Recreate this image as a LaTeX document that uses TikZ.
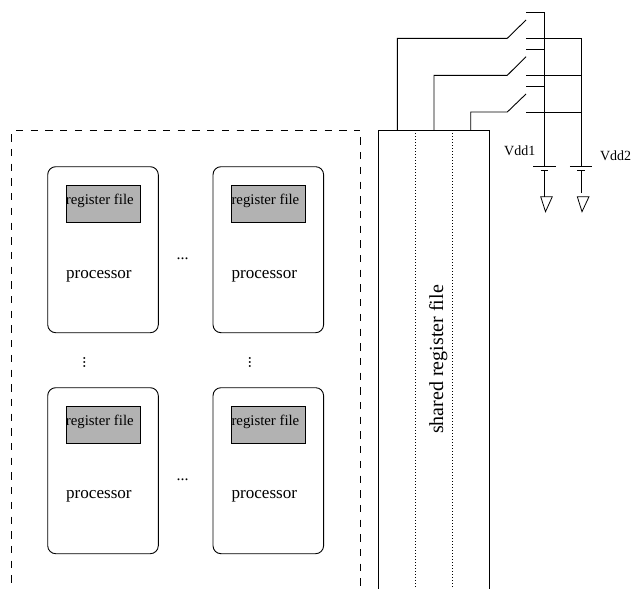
\documentclass[tikz,border=0pt]{standalone}
\usepackage{fontspec}
\setmainfont{Liberation Serif}
\begin{document}
\begin{tikzpicture}[x=1pt,y=-1pt,
  every node/.style={inner sep=0pt,outer sep=0pt},
  wire/.style={draw=black,line width=0.9pt},
  procbox/.style={draw=black,line width=0.9pt,rounded corners=8pt,rectangle,minimum width=110.6pt,minimum height=166pt,anchor=north west},
  regbox/.style={draw=black,fill=black!30,line width=0.9pt,rectangle,minimum width=74pt,minimum height=37.3pt,anchor=north west},
  regtext/.style={font=\fontsize{14.8}{16}\selectfont,anchor=base},
  proctext/.style={font=\fontsize{17.1}{19}\selectfont,anchor=base},
  vddtext/.style={font=\fontsize{14}{16}\selectfont,anchor=base west},
  dotstext/.style={font=\fontsize{16}{18}\selectfont,anchor=base},
  frame/.style={draw=black,line width=0.9pt,dash pattern=on 7.3pt off 7.4pt},
  divider/.style={draw=black,line width=0.9pt,dash pattern=on 1pt off 2pt},
  gnd/.style={draw=black,line width=0.8pt}]
\useasboundingbox (0,0) rectangle (632,589);
% dashed frame
\coordinate (fbl) at (11,589); \coordinate (ftl) at (11,130);
\coordinate (ftr) at (360.3,130); \coordinate (fbr) at (360.3,589);
\draw[frame,dash phase=10.4pt] (ftl) -- (fbl);
\draw[frame,dash phase=9.7pt] (ftl) -- (ftr);
\draw[frame,dash phase=7.3pt] (ftr) -- (fbr);
% processors
\foreach \n/\x/\y/\rx/\ry/\tx/\px/\rb/\pb in {
  a/47.7/166.7/66/185/99.8/98.9/204/278.3,
  b/213/166.7/231.3/185/265.4/264.3/204/278.3,
  c/47.7/387.7/66/406/99.8/98.9/425/498.3,
  d/213/387.7/231.3/406/265.4/264.3/425/498.3}{
  \node[procbox] (p\n) at (\x,\y) {};
  \node[regbox] (r\n) at (\rx,\ry) {};
  \node[regtext] (rt\n) at (\tx,\rb) {register file};
  \node[proctext] (pt\n) at (\px,\pb) {processor};
}
\node[dotstext] (h1) at (182.6,259) {...};
\node[dotstext] (h2) at (182.6,480) {...};
\node[dotstext,rotate=90] (v1) at (85,362.5) {...};
\node[dotstext,rotate=90] (v2) at (250.6,362.5) {...};
% shared register file
\coordinate (sbl) at (378.7,589); \coordinate (stl) at (378.7,130);
\coordinate (str) at (489.3,130); \coordinate (sbr) at (489.3,589);
\draw[wire] (sbl) -- (stl) -- (str) -- (sbr);
\coordinate (d1t) at (415.7,130); \coordinate (d1b) at (415.7,589);
\coordinate (d2t) at (452.3,130); \coordinate (d2b) at (452.3,589);
\draw[divider] (d1t) -- (d1b);
\draw[divider] (d2t) -- (d2b);
\node[font=\fontsize{20}{22}\selectfont,rotate=90,anchor=base] (srf) at (443,359.5) {shared register file};
% rails
\coordinate (r1t) at (544.4,12.3); \coordinate (r1b) at (544.4,166.7);
\coordinate (r2t) at (581,38.3); \coordinate (r2b) at (581,166.7);
\coordinate (top1) at (526,12.3);
\draw[wire] (top1) -- (r1t) -- (r1b);
\draw[wire] (r2t) -- (r2b);
% switches
\foreach \w/\yy/\ya/\yc in {397.3/38.3/20/1, 434/75.3/56.7/2, 470.7/112/94/3}{
  \coordinate (wb\yc) at (\w,130);
  \coordinate (wc\yc) at (\w,\yy);
  \coordinate (wk\yc) at (507.3,\yy);
  \coordinate (wt\yc) at (526,\ya);
  \coordinate (fa\yc) at (526,\yy);
  \coordinate (fb\yc) at (581,\yy);
  \draw[wire] (wb\yc) -- (wc\yc) -- (wk\yc) -- (wt\yc);
  \draw[wire] (fa\yc) -- (fb\yc);
}
\coordinate (ua) at (526,49.3); \coordinate (ub) at (544.4,49.3);
\coordinate (va) at (526,86); \coordinate (vb) at (544.4,86);
\draw[wire] (ua) -- (ub);
\draw[wire] (va) -- (vb);
% batteries and grounds
\foreach \k/\cx/\lo/\gl/\gr/\ga in {1/544.4/196.7/540.7/552.3/545.5, 2/581/192.7/577.3/589/582}{
  \coordinate (pl\k) at (\cx-11.2,166.7); \coordinate (pr\k) at (\cx+11.2,166.7);
  \coordinate (ql\k) at (\cx-3.7,170.7); \coordinate (qr\k) at (\cx+3.9,170.7);
  \coordinate (m\k) at (\cx,166.7); \coordinate (n\k) at (\cx,\lo);
  \draw[wire] (pl\k) -- (pr\k);
  \draw[wire] (ql\k) -- (qr\k);
  \draw[wire] (\cx,170.7) -- (n\k);
  \coordinate (g1\k) at (\gl,196.7); \coordinate (g2\k) at (\gr,196.7); \coordinate (g3\k) at (\ga,211.7);
  \draw[gnd] (g1\k) -- (g2\k) -- (g3\k) -- cycle;
}
\node[vddtext] (vdd1) at (504.2,155.8) {Vdd1};
\node[vddtext] (vdd2) at (600,160) {Vdd2};
\end{tikzpicture}
\end{document}
